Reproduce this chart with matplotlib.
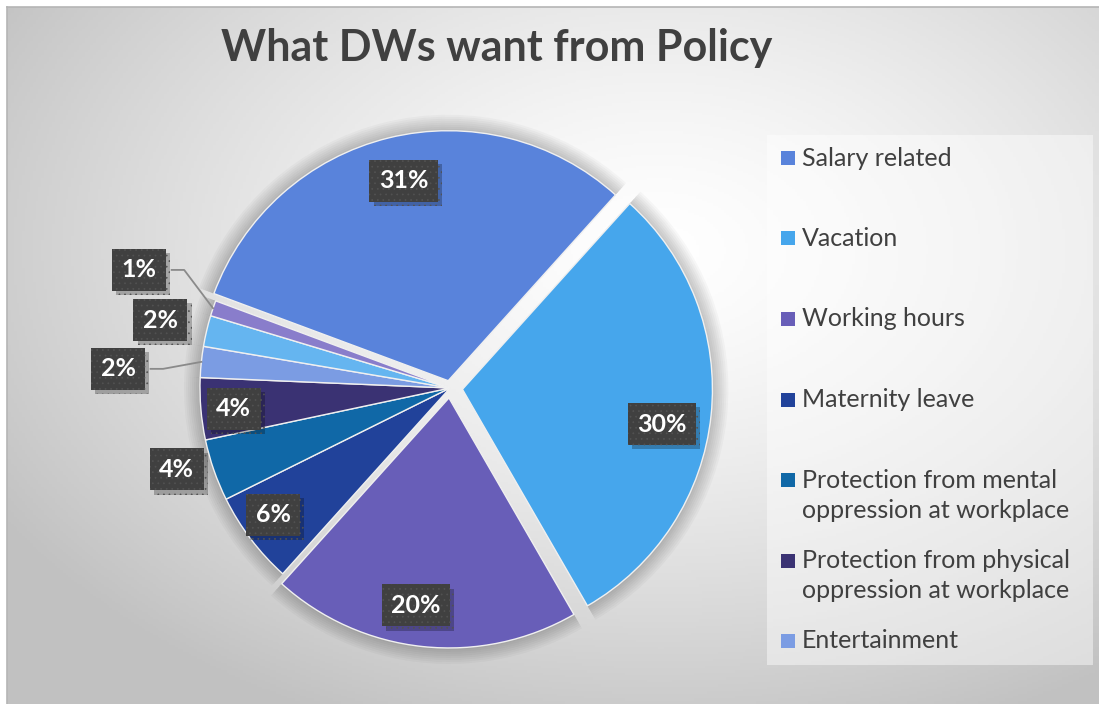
import numpy as np
import matplotlib.pyplot as plt
from matplotlib.patches import Rectangle
import matplotlib.patheffects as pe

# Dati
categories = [
    "Salary related",
    "Vacation",
    "Working hours",
    "Maternity leave",
    "Protection from mental\noppression at workplace",
    "Protection from physical\noppression at workplace",
    "Entertainment",
    "Other (not in legend)",
    "Other 2 (not in legend)",
]
shares = [31, 30, 20, 6, 4, 4, 2, 2, 1]
colors = ["#5983DB", "#46A6EC", "#685EB8", "#21429A", "#1068A7",
          "#3A3273", "#7B9CE3", "#65B5F0", "#897DCB"]
legend_count = 7
title = "What DWs want from Policy"

# Layout
W, H = 1099, 704
explode = [0.03, 0.05, 0.04, 0, 0, 0, 0, 0, 0]
start_angle = 159.6
label_r = [0.85, 0.86, 0.88, 0.87, 1.14, 0.87, 1.33, 1.19, 1.33]
label_dang = [-1.2, -3.7, -2.9, -1.6, -2.6, 0.7, 2.7, 0.0, -2.2]
leader = [False, False, False, False, False, False, True, False, True]
text_col = "#404040"
font = "Lato"


def fx(px):
    return px / W


def fy(py):
    return 1 - py / H


fig = plt.figure(figsize=(W / 100, H / 100), dpi=100)
fig.patch.set_facecolor("white")

# sfondo sfumato
bg = fig.add_axes([fx(7), 0, 1 - fx(7), fy(7)])
bg.set_zorder(-1)
xx, yy = np.meshgrid(np.linspace(7, W, 400), np.linspace(7, H, 300))
d = np.sqrt((xx - 660) ** 2 + (1.5 * (yy - 250)) ** 2) / 780
g = 255 - 62 * np.clip(d, 0, 1) ** 1.4
img = np.dstack([g, g, g]).astype(np.uint8)
bg.imshow(img, aspect="auto", extent=[0, 1, 0, 1])
bg.axis("off")
fig.add_artist(plt.Line2D([fx(7), 1], [fy(7), fy(7)], color="#b5b5b5", lw=1.2))
fig.add_artist(plt.Line2D([fx(7), fx(7)], [0, fy(7)], color="#b5b5b5", lw=1.2))

# torta
ax = fig.add_axes([fx(50), (H - 388 - 400) / H, 800 / W, 800 / H])
ax.axis("off")

# alone grigio attorno agli spicchi
for k in range(1, 9):
    ax.pie(shares, explode=explode, startangle=start_angle, counterclock=False,
           radius=1 + 0.008 * k, colors=[(0, 0, 0, 0.026)] * len(shares),
           wedgeprops=dict(linewidth=0), frame=False)

wedges, _ = ax.pie(shares, explode=explode, startangle=start_angle,
                   counterclock=False, colors=colors,
                   wedgeprops=dict(edgecolor="#f0f0f0", linewidth=1.0))
ax.set_xlim(-1.6, 1.6)
ax.set_ylim(-1.6, 1.6)
ax.set_aspect("equal")

plt.rcParams["hatch.linewidth"] = 0.5
cum = np.cumsum(shares) - np.array(shares) / 2
total = sum(shares)
for i, v in enumerate(shares):
    mid = start_angle - 360 * cum[i] / total
    a = np.deg2rad(mid + label_dang[i])
    lx, ly = label_r[i] * np.cos(a), label_r[i] * np.sin(a)
    if leader[i]:
        m = np.deg2rad(mid)
        ex, ey = np.cos(m), np.sin(m)
        bx = lx + 0.13
        kx = bx + 0.05
        ax.plot([bx, kx, ex], [ly, ly, ey], color="#8a8a8a", lw=1.3, zorder=3)
    t = ax.text(lx, ly, f"{v}%", ha="center", va="center", color="white",
                fontsize=18, fontweight="bold", family=font, zorder=5,
                bbox=dict(boxstyle="square,pad=0.38", fc="#404040",
                          ec="#525252", lw=0, hatch="..."))
    t.get_bbox_patch().set_path_effects([
        pe.SimplePatchShadow(offset=(3, -3), shadow_rgbFace="black", alpha=0.25),
        pe.Normal()])

# titolo
fig.text(fx(497), fy(48), title, ha="center", va="center", fontsize=31,
         fontweight="bold", color=text_col, family=font)

# legenda
fig.patches.append(Rectangle((fx(767), fy(665)), 326 / W, 530 / H,
                             transform=fig.transFigure, fc="white",
                             alpha=0.45, ec="none"))
for i in range(legend_count):
    yc = 158 + 80.5 * i
    fig.patches.append(Rectangle((fx(781), fy(yc + 7)), 14 / W, 14 / H,
                                 transform=fig.transFigure, fc=colors[i],
                                 ec="none", zorder=2))
    for j, line in enumerate(categories[i].split("\n")):
        fig.text(fx(802), fy(yc + 30 * j), line, ha="left", va="center",
                 fontsize=18, color=text_col, family=font)

fig.savefig("out.png", dpi=100, facecolor="white")
